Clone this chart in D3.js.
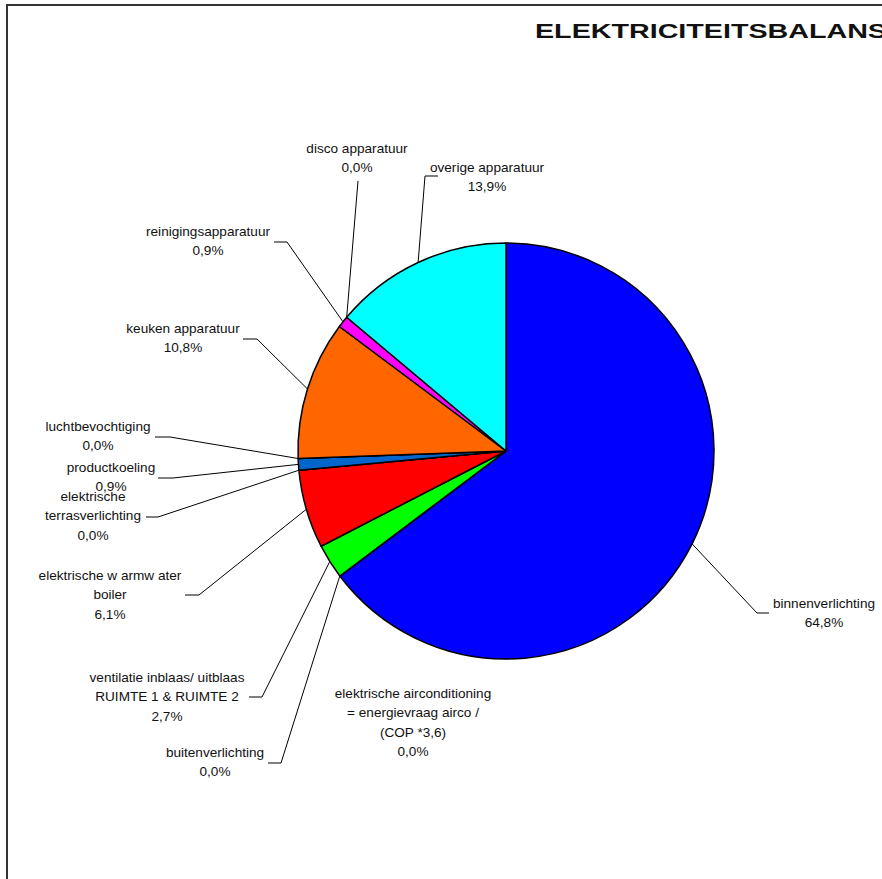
<!DOCTYPE html>
<html><head><meta charset="utf-8">
<script src="https://cdn.jsdelivr.net/npm/d3@7"></script>
<style>
html,body{margin:0;padding:0;background:#fff;overflow:hidden;}
svg{display:block;}
text{font-family:Arial,"Liberation Sans",sans-serif;fill:#111;}
</style></head>
<body>
<svg id="chart" width="882" height="879"></svg>
<script>
const title = "ELEKTRICITEITSBALANS";
const categories = [
  "binnenverlichting",
  "elektrische airconditioning = energievraag airco / (COP *3,6)",
  "buitenverlichting",
  "ventilatie inblaas/ uitblaas RUIMTE 1 & RUIMTE 2",
  "elektrische w armw ater boiler",
  "elektrische terrasverlichting",
  "productkoeling",
  "luchtbevochtiging",
  "keuken apparatuur",
  "reinigingsapparatuur",
  "disco apparatuur",
  "overige apparatuur"
];
const values = [64.8, 0.0, 0.0, 2.7, 6.1, 0.0, 0.9, 0.0, 10.8, 0.9, 0.0, 13.9];
const labelLines = [
  ["binnenverlichting"],
  ["elektrische airconditioning", "= energievraag airco /", "(COP *3,6)"],
  ["buitenverlichting"],
  ["ventilatie inblaas/ uitblaas", "RUIMTE 1 & RUIMTE 2"],
  ["elektrische w armw ater", "boiler"],
  ["elektrische", "terrasverlichting"],
  ["productkoeling"],
  ["luchtbevochtiging"],
  ["keuken apparatuur"],
  ["reinigingsapparatuur"],
  ["disco apparatuur"],
  ["overige apparatuur"]
];
const colors = ["#0000FF","#9999FF","#993366","#00FF00","#FF0000","#FFFF00","#0066CC","#CCFFFF","#FF6600","#FF00FF","#800080","#00FFFF"];

// layout (label centre x, first baseline y, elbow x/y, leader end x) – null elbow = no leader
const labelLayout = [
  {x: 824, y: 608, ex: 757, ey: 613, hx: 769},
  {x: 413, y: 698, ex: null},
  {x: 215, y: 757, ex: 281, ey: 763, hx: 268},
  {x: 167, y: 682, ex: 262, ey: 697, hx: 249},
  {x: 110, y: 580, ex: 199, ey: 595, hx: 185},
  {x: 93,  y: 501, ex: 158, ey: 517, hx: 146},
  {x: 111, y: 472, ex: 173, ey: 478, hx: 158},
  {x: 98,  y: 431, ex: 170, ey: 437, hx: 155},
  {x: 183, y: 333, ex: 257, ey: 339, hx: 243},
  {x: 208, y: 236, ex: 287, ey: 242, hx: 274},
  {x: 357, y: 153, ex: 358, ey: 181, hx: 358},
  {x: 487, y: 172, ex: 425, ey: 176, hx: 438}
];

const svg = d3.select("#chart");
const W = 882, H = 879;
const cx = 506, cy = 451, R = 208;
const lineH = 19.3;

// frame
svg.append("path")
  .attr("d", `M7,${H} L7,5 L${W},5`)
  .attr("fill","none").attr("stroke","#333").attr("stroke-width",2);

// title
svg.append("text")
  .attr("x", 535).attr("y", 38)
  .attr("font-size", 20).attr("font-weight","bold")
  .attr("textLength", 352).attr("lengthAdjust","spacingAndGlyphs")
  .text(title);

const pie = d3.pie().sort(null).value(d => d);
const arcs = pie(values);
const arc = d3.arc().innerRadius(0).outerRadius(R);

const g = svg.append("g").attr("transform", `translate(${cx},${cy})`);
g.selectAll("path.slice").data(arcs).enter().append("path")
  .attr("class","slice")
  .attr("d", arc)
  .attr("fill", (d,i) => colors[i])
  .attr("stroke","#000").attr("stroke-width",1.5).attr("stroke-linejoin","round");

const fmt = v => v.toFixed(1).replace(".", ",") + "%";

arcs.forEach((a, i) => {
  const L = labelLayout[i];
  const mid = (a.startAngle + a.endAngle) / 2;
  const px = cx + R * Math.sin(mid), py = cy - R * Math.cos(mid);
  if (L.ex !== null) {
    svg.append("polyline")
      .attr("points", `${px},${py} ${L.ex},${L.ey} ${L.hx},${L.ey}`)
      .attr("fill","none").attr("stroke","#000").attr("stroke-width",1);
  }
  const lines = labelLines[i].concat([fmt(values[i])]);
  const t = svg.append("text").attr("text-anchor","middle").attr("font-size",13.6);
  lines.forEach((s, k) => {
    t.append("tspan").attr("x", L.x).attr("y", L.y + k * lineH).text(s);
  });
});
</script>
</body></html>
